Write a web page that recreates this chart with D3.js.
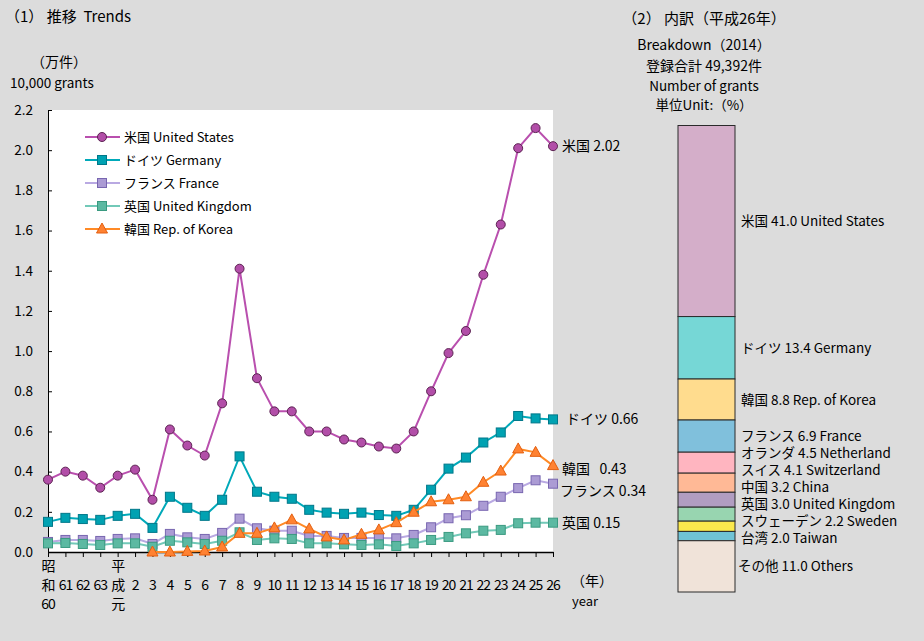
<!DOCTYPE html>
<html>
<head>
<meta charset="utf-8">
<script src="https://cdn.jsdelivr.net/npm/d3@7/dist/d3.min.js"></script>
<style>
html,body{margin:0;padding:0;background:#dcdcdc;}
svg{display:block;font-family:"Noto Sans CJK JP","Noto Sans",sans-serif;}
</style>
</head>
<body>
<svg id="chart" width="924" height="641"></svg>
<script>
// ---- Data ----
const categories = ["昭和60","61","62","63","平成元","2","3","4","5","6","7","8","9","10","11","12","13","14","15","16","17","18","19","20","21","22","23","24","25","26"];
const usValues = [0.36,0.40,0.38,0.32,0.38,0.41,0.26,0.61,0.53,0.48,0.74,1.41,0.865,0.70,0.70,0.60,0.60,0.56,0.545,0.525,0.515,0.60,0.80,0.99,1.10,1.38,1.63,2.01,2.11,2.02];
const deValues = [0.15,0.17,0.164,0.16,0.18,0.19,0.12,0.275,0.22,0.18,0.26,0.476,0.30,0.275,0.265,0.21,0.196,0.19,0.196,0.184,0.18,0.21,0.31,0.415,0.47,0.545,0.595,0.677,0.665,0.66];
const frValues = [0.05,0.06,0.06,0.055,0.065,0.068,0.04,0.09,0.073,0.065,0.095,0.166,0.118,0.106,0.106,0.08,0.08,0.07,0.07,0.07,0.068,0.085,0.123,0.168,0.183,0.23,0.275,0.318,0.357,0.34];
const ukValues = [0.043,0.045,0.04,0.035,0.043,0.043,0.026,0.056,0.048,0.04,0.056,0.098,0.06,0.068,0.065,0.043,0.043,0.038,0.035,0.038,0.03,0.043,0.06,0.075,0.093,0.106,0.11,0.143,0.146,0.146];
const krValues = [null,null,null,null,null,null,0.0,0.0,0.003,0.005,0.025,0.093,0.093,0.12,0.16,0.115,0.075,0.06,0.088,0.11,0.146,0.198,0.25,0.26,0.275,0.347,0.403,0.513,0.496,0.43];
const yTicks = [0,0.2,0.4,0.6,0.8,1.0,1.2,1.4,1.6,1.8,2.0,2.2];

const seriesNames = ["米国 United States","ドイツ Germany","フランス France","英国 United Kingdom","韓国 Rep. of Korea"];
const endLabels = ["米国 2.02","ドイツ 0.66","フランス 0.34","英国 0.15","韓国\u00a0\u00a0 0.43"];

const shareNames = ["米国","ドイツ","韓国","フランス","オランダ","スイス","中国","英国","スウェーデン","台湾","その他"];
const shareEnglish = ["United States","Germany","Rep. of Korea","France","Netherland","Switzerland","China","United Kingdom","Sweden","Taiwan","Others"];
const shareValues = [41.0,13.4,8.8,6.9,4.5,4.1,3.2,3.0,2.2,2.0,11.0];
const shareColors = ["#d4aec9","#76d7d6","#ffdc8e","#80c0dc","#ffb5c0","#ffb996","#b19dc1","#98d5b0","#fbe94d","#6fc3d5","#f0e3d9"];

(function () {
const lineStyles = [
  {line:"#b94fae", fill:"#b24ea8", stroke:"#5c2352", shape:"circle"},
  {line:"#00a9b9", fill:"#00a2b2", stroke:"#00788a", shape:"square"},
  {line:"#b9a9e2", fill:"#ab9bd4", stroke:"#7866b0", shape:"square"},
  {line:"#72c9b8", fill:"#5cb9a2", stroke:"#3a9a80", shape:"square"},
  {line:"#ff8a26", fill:"#ff8232", stroke:"#e35f10", shape:"triangle"}
];
const allSeries = [usValues,deValues,frValues,ukValues,krValues];

const svg = d3.select("#chart");

// ---- Line chart ----
const pLeft = 48, pRight = 553, pTop = 110, pBottom = 552;
const x = d3.scalePoint().domain(categories).range([pLeft, pRight]);
const y = d3.scaleLinear().domain([0, 2.2]).range([pBottom, pTop]);

svg.append("rect").attr("x", pLeft).attr("y", pTop).attr("width", pRight-pLeft).attr("height", pBottom-pTop).attr("fill", "#fff");

// titles
svg.append("text").attr("x", 5).attr("y", 22).attr("font-size", 15).text("（1）\u00a0推移\u00a0\u00a0Trends");
svg.append("text").attr("x", 31).attr("y", 67).attr("font-size", 14).text("（万件）");
svg.append("text").attr("x", 10).attr("y", 88).attr("font-size", 13.5).text("10,000 grants");

// y axis
const yAxis = d3.axisLeft(y).tickValues(yTicks).tickFormat(d3.format(".1f")).tickSizeInner(-4).tickSizeOuter(0).tickPadding(15);
const gy = svg.append("g").attr("transform", `translate(${pLeft},0)`).call(yAxis);
gy.selectAll("text").attr("font-size", 13.5).attr("fill", "#000").attr("font-family", "Noto Sans CJK JP, sans-serif");
gy.selectAll("line,path").attr("stroke", "#000");

// x axis
const xAxis = d3.axisBottom(x).tickSizeInner(5).tickSizeOuter(0).tickFormat("");
const gx = svg.append("g").attr("transform", `translate(0,${pBottom})`).call(xAxis);
gx.selectAll("line,path").attr("stroke", "#000");
gx.select(".domain").attr("stroke-width", 1.5);

const tickLines = l => l === "昭和60" ? ["昭","和","60"] : l === "平成元" ? ["平","成","元"] : [null, l];
categories.forEach(c => {
  const lines = tickLines(c);
  lines.forEach((t, i) => {
    if (t === null) return;
    svg.append("text").attr("x", x(c)).attr("y", 571 + i*19).attr("text-anchor", "middle")
      .attr("font-size", 14).attr("letter-spacing", "-1").text(t);
  });
});
svg.append("text").attr("x", 571).attr("y", 586).attr("font-size", 14).text("（年）");
svg.append("text").attr("x", 572).attr("y", 606).attr("font-size", 13).text("year");

// markers
function drawMarker(g, shape, cx, cy, st) {
  if (shape === "circle") {
    g.append("circle").attr("cx", cx).attr("cy", cy).attr("r", 4.5).attr("fill", st.fill).attr("stroke", st.stroke).attr("stroke-width", 1);
  } else if (shape === "square") {
    g.append("rect").attr("x", cx-4.5).attr("y", cy-4.5).attr("width", 9).attr("height", 9).attr("fill", st.fill).attr("stroke", st.stroke).attr("stroke-width", 1);
  } else {
    g.append("path").attr("d", `M${cx},${cy-6}L${cx+5.5},${cy+4}L${cx-5.5},${cy+4}Z`).attr("fill", st.fill).attr("stroke", st.stroke).attr("stroke-width", 1);
  }
}

const line = d3.line().defined(d => d.v !== null).x(d => x(d.c)).y(d => y(d.v));
allSeries.forEach((vals, si) => {
  const st = lineStyles[si];
  const data = categories.map((c, i) => ({c, v: vals[i]}));
  const g = svg.append("g");
  g.append("path").datum(data).attr("d", line).attr("fill", "none").attr("stroke", st.line).attr("stroke-width", 2);
  data.filter(d => d.v !== null).forEach(d => drawMarker(g, st.shape, x(d.c), y(d.v), st));
});

// end labels
const endYOffset = [5, 5, 12, 5, 8];
const endX = [562, 566, 560, 562, 562];
allSeries.forEach((vals, si) => {
  const v = vals[vals.length-1];
  svg.append("text").attr("x", endX[si]).attr("y", y(v) + endYOffset[si]).attr("font-size", 14).text(endLabels[si]);
});

// legend
seriesNames.forEach((n, i) => {
  const st = lineStyles[i];
  const ly = 137 + i*23;
  const g = svg.append("g");
  g.append("line").attr("x1", 85).attr("x2", 120).attr("y1", ly).attr("y2", ly).attr("stroke", st.line).attr("stroke-width", 2);
  drawMarker(g, st.shape, 102, ly, st);
  g.append("text").attr("x", 124).attr("y", ly + 5).attr("font-size", 13).text(n);
});

// ---- Breakdown bar ----
const cx2 = 704;
const heads = [["（2）\u00a0内訳（平成26年）",24,15],["Breakdown（2014）",50,14],["登録合計 49,392件",71,14],["Number of grants",91,13.5],["単位Unit:（%）",110,13.5]];
heads.forEach(([t, yy, fs]) => svg.append("text").attr("x", cx2).attr("y", yy).attr("text-anchor", "middle").attr("font-size", fs).text(t));

const total = d3.sum(shareValues);
const ys = d3.scaleLinear().domain([0, total]).range([125.5, 592]);
let cum = 0;
const segs = shareValues.map((v, i) => { const s = {i, v, y0: cum, y1: cum + v}; cum += v; return s; });
const barX = 678, barW = 57;
segs.forEach(s => {
  svg.append("rect").attr("x", barX).attr("y", ys(s.y0)).attr("width", barW).attr("height", ys(s.y1) - ys(s.y0))
    .attr("fill", shareColors[s.i]).attr("stroke", "#2a2a2a").attr("stroke-width", 1);
});

// labels with simple de-overlap from bottom up
const centers = segs.map(s => (ys(s.y0) + ys(s.y1)) / 2);
const labelY = centers.slice();
labelY[labelY.length - 2] += 2;
for (let i = labelY.length - 3; i >= 0; i--) {
  labelY[i] = Math.min(labelY[i], labelY[i+1] - 17);
}
segs.forEach((s, i) => {
  svg.append("text").attr("x", i === segs.length - 1 ? 738 : 741).attr("y", labelY[i] + 5)
    .attr("font-size", 13.5)
    .text(`${shareNames[i]} ${d3.format(".1f")(s.v)} ${shareEnglish[i]}`);
});
})();
</script>
</body>
</html>
